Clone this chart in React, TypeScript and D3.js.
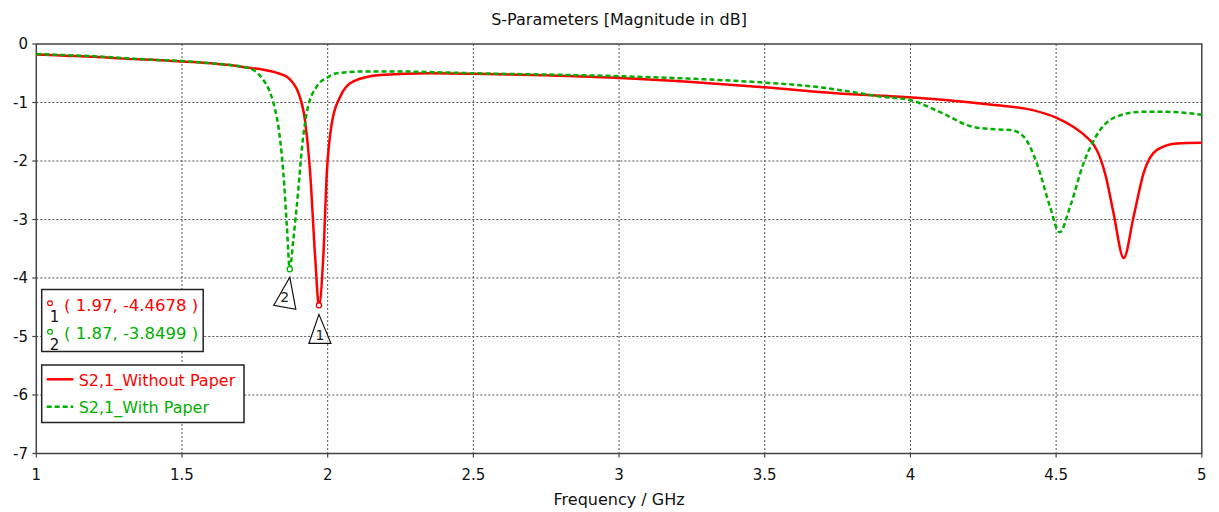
import React from "react";
import * as d3 from "d3";

// S2,1 without paper (GHz, dB)
const withoutFreq = [
  1.0, 1.1, 1.2, 1.3, 1.4, 1.5, 1.6, 1.665, 1.72, 1.78, 1.83, 1.86, 1.88, 1.9,
  1.922, 1.94, 1.957, 1.97, 1.985, 1.997, 2.014, 2.043, 2.088, 2.18, 2.35, 2.5,
  2.7, 3.0, 3.25, 3.5, 3.8, 3.965, 4.1, 4.28, 4.42, 4.5, 4.56, 4.6, 4.63, 4.65,
  4.67, 4.697, 4.732, 4.766, 4.8, 4.846, 4.915, 5.0,
];
const withoutDb = [
  -0.18, -0.2, -0.22, -0.25, -0.27, -0.3, -0.33, -0.36, -0.4, -0.44, -0.5,
  -0.56, -0.66, -0.84, -1.3, -2.21, -3.64, -4.4678, -3.64, -2.21, -1.36, -0.9,
  -0.64, -0.53, -0.5, -0.51, -0.53, -0.58, -0.65, -0.74, -0.86, -0.9, -0.95,
  -1.04, -1.13, -1.26, -1.42, -1.57, -1.73, -1.93, -2.25, -2.89, -3.66, -2.95,
  -2.21, -1.81, -1.7, -1.69,
];

// S2,1 with paper (GHz, dB)
const withFreq = [
  1.0, 1.1, 1.2, 1.3, 1.4, 1.5, 1.6, 1.665, 1.733, 1.76, 1.78, 1.8, 1.814,
  1.837, 1.848, 1.86, 1.87, 1.882, 1.899, 1.911, 1.928, 1.962, 2.0, 2.031, 2.12,
  2.24, 2.5, 3.0, 3.23, 3.5, 3.69, 3.8, 3.9, 4.0, 4.1, 4.217, 4.3, 4.343, 4.388,
  4.434, 4.479, 4.512, 4.548, 4.594, 4.651, 4.708, 4.788, 4.88, 5.0,
];
const withDb = [
  -0.17, -0.19, -0.21, -0.24, -0.27, -0.29, -0.33, -0.36, -0.42, -0.5, -0.62,
  -0.8, -1.01, -1.64, -2.21, -3.12, -3.8499, -3.35, -2.5, -1.81, -1.18, -0.73,
  -0.57, -0.5, -0.47, -0.47, -0.5, -0.55, -0.59, -0.66, -0.74, -0.82, -0.9,
  -0.96, -1.16, -1.42, -1.46, -1.47, -1.58, -2.04, -2.78, -3.22, -2.78, -2.04,
  -1.47, -1.24, -1.16, -1.16, -1.21,
];

const xTicks = [1, 1.5, 2, 2.5, 3, 3.5, 4, 4.5, 5];
const yTicks = [0, -1, -2, -3, -4, -5, -6, -7];

const seriesNames = ["S2,1_Without Paper", "S2,1_With Paper"];
const seriesColors = ["#ff0000", "#00b000"];

const markerIds = ["1", "2"];
const markerFreq = [1.97, 1.87];
const markerDb = [-4.4678, -3.8499];

const W = 1219;
const H = 512;
const FONT = "'DejaVu Sans', Verdana, sans-serif";

const x = d3.scaleLinear().domain([1, 5]).range([36.3, 1201.8]);
const y = d3.scaleLinear().domain([-7, 0]).range([453.5, 44]);

const line = d3
  .line<[number, number]>()
  .x((d) => x(d[0]))
  .y((d) => y(d[1]))
  .curve(d3.curveMonotoneX);

// triangle flags under each marker, offsets from the marker point
const flagShapes = [
  [[0, 9], [-10, 38], [12, 38]],
  [[0, 8], [-16, 36], [6, 40]],
];
const flagText = [[1, 35], [-5, 33]];

export default function App() {
  const [x0, x1] = x.range();
  const [y0, y1] = y.range();
  const series = [
    withoutFreq.map((f, i) => [f, withoutDb[i]] as [number, number]),
    withFreq.map((f, i) => [f, withDb[i]] as [number, number]),
  ];

  return (
    <svg
      width={W}
      height={H}
      style={{ position: "absolute", left: 0, top: 0, background: "#fff" }}
      fontFamily={FONT}
    >
      <defs>
        <clipPath id="plot-clip">
          <rect x={x0} y={y1} width={x1 - x0} height={y0 - y1} />
        </clipPath>
      </defs>

      {/* grid */}
      {xTicks.slice(1, -1).map((t) => (
        <line
          key={"gx" + t}
          x1={x(t)}
          x2={x(t)}
          y1={y1}
          y2={y0}
          stroke="#555"
          strokeWidth={1}
          strokeDasharray="2,2"
        />
      ))}
      {yTicks.slice(1, -1).map((t) => (
        <line
          key={"gy" + t}
          x1={x0}
          x2={x1}
          y1={y(t)}
          y2={y(t)}
          stroke="#555"
          strokeWidth={1}
          strokeDasharray="2,2"
        />
      ))}

      {/* frame */}
      <rect
        x={x0}
        y={y1}
        width={x1 - x0}
        height={y0 - y1}
        fill="none"
        stroke="#444"
        strokeWidth={1.5}
      />

      {/* ticks */}
      {xTicks.map((t) => (
        <g key={"tx" + t}>
          <line x1={x(t)} x2={x(t)} y1={y0} y2={y0 + 4} stroke="#444" strokeWidth={1.2} />
          <text x={x(t)} y={480} textAnchor="middle" fontSize={15} fill="#111">
            {t}
          </text>
        </g>
      ))}
      {yTicks.map((t) => (
        <g key={"ty" + t}>
          <line x1={x0 - 4} x2={x0} y1={y(t)} y2={y(t)} stroke="#444" strokeWidth={1.2} />
          <text
            x={28}
            y={y(t)}
            dy="0.36em"
            textAnchor="end"
            fontSize={15}
            fill="#111"
          >
            {t}
          </text>
        </g>
      ))}

      {/* titles */}
      <text x={(x0 + x1) / 2} y={25} textAnchor="middle" fontSize={16} fill="#111">
        S-Parameters [Magnitude in dB]
      </text>
      <text x={(x0 + x1) / 2} y={505} textAnchor="middle" fontSize={16} fill="#111">
        Frequency / GHz
      </text>

      {/* curves */}
      <g clipPath="url(#plot-clip)">
        <path
          d={line(series[0]) || ""}
          fill="none"
          stroke={seriesColors[0]}
          strokeWidth={2.5}
        />
        <path
          d={line(series[1]) || ""}
          fill="none"
          stroke={seriesColors[1]}
          strokeWidth={2.5}
          strokeDasharray="5,3"
        />
      </g>

      {/* markers */}
      {markerIds.map((id, i) => {
        const mx = x(markerFreq[i]);
        const my = y(markerDb[i]);
        const pts = flagShapes[i].map((p) => `${mx + p[0]},${my + p[1]}`).join(" ");
        return (
          <g key={"m" + id}>
            <circle cx={mx} cy={my} r={2.6} fill="#fff" stroke={seriesColors[i]} strokeWidth={1.3} />
            <polygon points={pts} fill="#fff" fillOpacity={0.6} stroke="#111" strokeWidth={1.2} />
            <text
              x={mx + flagText[i][0]}
              y={my + flagText[i][1]}
              textAnchor="middle"
              fontSize={14}
              fill="#222"
            >
              {id}
            </text>
          </g>
        );
      })}

      {/* marker readout box */}
      <rect x={41.7} y={289.5} width={161.5} height={62} fill="#fff" stroke="#222" strokeWidth={1.5} />
      {markerIds.map((id, i) => (
        <g key={"mr" + id}>
          <circle cx={50} cy={303.3 + i * 28.4} r={2.4} fill="#fff" stroke={seriesColors[i]} strokeWidth={1.2} />
          <text x={54.5} y={322 + i * 28.4} textAnchor="middle" fontSize={15} fill="#111">
            {id}
          </text>
          <text x={64} y={311 + i * 28.4} fontSize={16.5} fill={seriesColors[i]}>
            {`( ${markerFreq[i]}, ${markerDb[i]} )`}
          </text>
        </g>
      ))}

      {/* legend */}
      <rect x={41.7} y={365} width={202.3} height={57.5} fill="#fff" stroke="#222" strokeWidth={1.5} />
      {seriesNames.map((name, i) => (
        <g key={"lg" + i}>
          <line
            x1={46.7}
            x2={73.3}
            y1={379.3 + i * 27.4}
            y2={379.3 + i * 27.4}
            stroke={seriesColors[i]}
            strokeWidth={2.5}
            strokeDasharray={i === 1 ? "5,3" : undefined}
          />
          <text x={78.7} y={385.5 + i * 27.4} fontSize={16} fill={seriesColors[i]}>
            {name}
          </text>
        </g>
      ))}
    </svg>
  );
}
